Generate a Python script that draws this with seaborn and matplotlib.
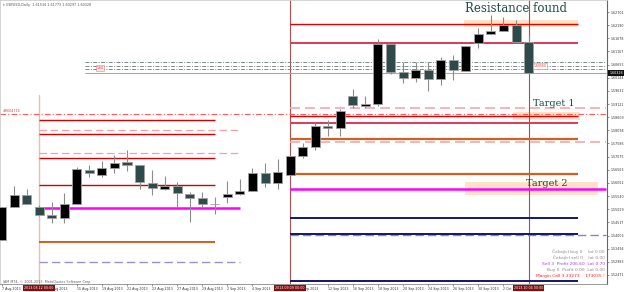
import numpy as np
import pandas as pd
import matplotlib
matplotlib.use("Agg")
import matplotlib.pyplot as plt
import matplotlib.transforms as mtransforms
import seaborn as sns

# ---------------- data ----------------
dates = ["2013-08-07", "2013-08-08", "2013-08-09", "2013-08-12", "2013-08-13", "2013-08-14",
         "2013-08-15", "2013-08-16", "2013-08-19", "2013-08-20", "2013-08-21", "2013-08-22",
         "2013-08-23", "2013-08-26", "2013-08-27", "2013-08-28", "2013-08-29", "2013-08-30",
         "2013-09-02", "2013-09-03", "2013-09-04", "2013-09-05", "2013-09-06", "2013-09-09",
         "2013-09-10", "2013-09-11", "2013-09-12", "2013-09-13", "2013-09-16", "2013-09-17",
         "2013-09-18", "2013-09-19", "2013-09-20", "2013-09-23", "2013-09-24", "2013-09-25",
         "2013-09-26", "2013-09-27", "2013-09-30", "2013-10-01", "2013-10-02", "2013-10-03",
         "2013-10-04"]
opens = [1.53832, 1.55116, 1.55583, 1.55116, 1.54805, 1.54688, 1.55232, 1.56555, 1.56361,
         1.56633, 1.56866, 1.56750, 1.56049, 1.55816, 1.55933, 1.55621, 1.55466, 1.55240,
         1.55505, 1.55621, 1.55738, 1.56438, 1.56049, 1.56361, 1.57100, 1.57450, 1.58267,
         1.58189, 1.59434, 1.59045, 1.59122, 1.61456, 1.60367, 1.60134, 1.60445, 1.60095,
         1.60834, 1.60406, 1.61495, 1.61845, 1.61962, 1.62195, 1.61534]
highs = [1.55116, 1.55933, 1.55816, 1.55194, 1.55310, 1.55660, 1.56672, 1.56750, 1.56905,
         1.57139, 1.57333, 1.56750, 1.56555, 1.56322, 1.56088, 1.55699, 1.55699, 1.55505,
         1.56127, 1.56205, 1.56633, 1.56827, 1.56983, 1.57100, 1.57605, 1.58383, 1.58500,
         1.58928, 1.59706, 1.59434, 1.61651, 1.61456, 1.60756, 1.60756, 1.60756, 1.60951,
         1.61028, 1.61379, 1.62079, 1.62584, 1.62507, 1.62390, 1.61773]
lows = [1.53832, 1.55116, 1.55232, 1.54766, 1.54493, 1.54493, 1.55232, 1.56283, 1.56283,
        1.56438, 1.56516, 1.55816, 1.55583, 1.55777, 1.55116, 1.54532, 1.55116, 1.54843,
        1.55271, 1.55583, 1.55738, 1.55894, 1.55816, 1.56361, 1.57022, 1.57333, 1.57878,
        1.57878, 1.58967, 1.58967, 1.59045, 1.60289, 1.59939, 1.59978, 1.59628, 1.59861,
        1.60056, 1.60406, 1.61301, 1.61845, 1.61962, 1.61534, 1.60297]
closes = [1.55116, 1.55583, 1.55232, 1.54805, 1.54688, 1.55232, 1.56594, 1.56438, 1.56633,
          1.56827, 1.56750, 1.56088, 1.55855, 1.55933, 1.55660, 1.55466, 1.55232, 1.55225,
          1.55621, 1.55738, 1.56438, 1.56049, 1.56477, 1.57100, 1.57450, 1.58267, 1.58189,
          1.58850, 1.59084, 1.59122, 1.61456, 1.60367, 1.60134, 1.60445, 1.60095, 1.60834,
          1.60445, 1.61379, 1.61845, 1.61962, 1.62195, 1.61534, 1.60328]

# date labels every second bar; parts hidden under the red marker boxes are left out
date_tick_idx = [0, 2, 4, 6, 8, 10, 12, 14, 16, 18, 20, 22, 24, 26, 28, 30, 32, 34, 36, 38, 40]
date_tick_labels = ["7 Aug 2013", "", "Aug 2013", "15 Aug 2013", "19 Aug 2013",
                    "21 Aug 2013", "23 Aug 2013", "27 Aug 2013", "29 Aug 2013", "2 Sep 2013",
                    "4 Sep 2013", "", "Sep 2013", "12 Sep 2013", "16 Sep 2013",
                    "18 Sep 2013", "20 Sep 2013", "24 Sep 2013", "26 Sep 2013", "30 Sep 2013",
                    "2 Oct"]
vline_idx = [3, 23, 42]
vline_labels = ["2013.08.12 00:00", "2013.09.09 00:00", "2013.10.04 00:00"]

price_ticks = [1.62701, 1.62190, 1.61678, 1.61167, 1.60655, 1.60144, 1.59632, 1.59121,
               1.58609, 1.58098, 1.57586, 1.57075, 1.56563, 1.56052, 1.55540, 1.55029,
               1.54517, 1.54006, 1.53494, 1.52983, 1.52471]
price_tick_labels = ["%.5f" % v for v in price_ticks]
last_close = 1.60328

# horizontal levels
right_red = [1.62234, 1.58656]
right_crimson = [1.61495, 1.58383]
right_orange = [1.57761, 1.56399]
right_navy = [1.54688, 1.54065, 1.52237]
right_magenta = [1.55816]
right_pink_dash = [1.58967, 1.57644]
right_purple_dash = [1.54027]
left_red = [1.58500, 1.57955, 1.57022, 1.55971]
left_pink_dash = [1.58111, 1.57216]
left_magenta = [1.55077]
left_orange = [1.53754]
left_purple_dash = [1.52976]
pivot_dashdot = [1.60756, 1.60601, 1.60484]
red_dashdot_full = [1.58733]
left_vline_top = 1.59473

resistance_zone = [1.62118, 1.62390]
target1_zone = [1.58500, 1.58811]
target2_zone = [1.55583, 1.56088]

# ---------------- styling ----------------
sns.set_theme(style="white")
plt.rcParams["font.family"] = ["DejaVu Sans"]
SMALL = ["DejaVu Sans"]

W, H = 625, 292
fig = plt.figure(figsize=(W / 100, H / 100), dpi=100)
fig.patch.set_facecolor("white")
ax = fig.add_axes([0, 8 / H, 607 / W, 284 / H])
ax.set_facecolor("white")

XMIN, XMAX = -0.12, 48.25
YMIN, YMAX = 1.52120, 1.63168


def px2x(px):
    return XMIN + (XMAX - XMIN) * px / 607.0


df = pd.DataFrame({"date": dates, "open": opens, "high": highs, "low": lows, "close": closes})
df["idx"] = np.arange(len(df))
df["body"] = (df["close"] - df["open"]).abs().clip(lower=0.00012)
df["base"] = df[["open", "close"]].min(axis=1)
df["bull"] = df["close"] >= df["open"]


def zone(x0px, x1px, lohi, color):
    ax.fill_between([px2x(x0px), px2x(x1px)], lohi[0], lohi[1], color=color, lw=0, zorder=0.5)


zone(464, 578, resistance_zone, "#fde2c4")
zone(513, 580, target1_zone, "#fde2c4")
zone(465, 598, target2_zone, "#fde2c4")

# wicks
ax.vlines(df["idx"], df["low"], df["high"], color="#8c8c8c", lw=0.8, zorder=2)

# candle bodies via seaborn bars
for is_bull, fc in [(True, "#000000"), (False, "#2f4a4a")]:
    sub = df[df["bull"] == is_bull].sort_values("idx")
    sns.barplot(x=sub["idx"].to_numpy(), y=sub["body"].to_numpy(),
                bottom=sub["base"].to_numpy(), native_scale=True, errorbar=None,
                width=0.72, color=fc, saturation=1, edgecolor="#a0a0a0",
                linewidth=0.6, ax=ax, zorder=3)


def hl(prices, x0px, x1px, color, lw, ls="-", z=1.5):
    for p in prices:
        ax.plot([px2x(x0px), px2x(x1px)], [p, p], color=color, lw=lw, ls=ls, zorder=z,
                solid_capstyle="butt")


hl(pivot_dashdot, 85, 606, "#7a8a8a", 0.7, (0, (4, 1.5, 1, 1.5)))
hl([last_close], 85, 606, "#a8a8a8", 0.8)
hl(red_dashdot_full, 0, 606, "#ff5a5a", 0.8, (0, (5, 2, 1, 2)))
hl(right_pink_dash, 290, 606, "#f2a8b0", 1.2, (0, (6, 3)))
hl(right_purple_dash, 290, 606, "#8c80c8", 1.0, (0, (6, 3)))
hl(right_red, 290, 578, "#e00000", 1.0)
hl(right_crimson, 290, 578, "#e0385a", 1.4)
hl(right_orange, 290, 578, "#d0601c", 1.6)
hl(right_magenta, 290, 606, "#ff00ff", 1.8)
hl(right_navy, 290, 578, "#14146e", 1.4)
hl(left_pink_dash, 39, 240, "#f2a0a8", 0.9, (0, (6, 3)))
hl(left_purple_dash, 39, 240, "#9a90cc", 1.0, (0, (6, 3)))
hl(left_red, 39, 215, "#d40000", 1.0)
hl(left_magenta, 38, 240, "#ff00ff", 1.8)
hl(left_orange, 39, 215, "#d0601c", 1.4)

# vertical lines
ax.plot([vline_idx[0], vline_idx[0]], [YMIN, left_vline_top], color="#f4b8b8", lw=1.0, zorder=1)
for i in vline_idx[1:]:
    ax.axvline(i, color="#a85050", lw=0.8, zorder=1)

# axes
ax.set_xlim(XMIN, XMAX)
ax.set_ylim(YMIN, YMAX)
ax.set_xticks(date_tick_idx)
ax.set_xticklabels(date_tick_labels, ha="left", family=SMALL, fontsize=2.3, color="#333333")
# the two partially covered labels start right after the red marker boxes
for lab in ax.get_xticklabels():
    if lab.get_text() in ("Aug 2013", "Sep 2013"):
        lab.set_transform(lab.get_transform() +
                          mtransforms.ScaledTranslation(5 / 100, 0, fig.dpi_scale_trans))
ax.yaxis.tick_right()
ax.set_yticks(price_ticks)
ax.set_yticklabels(price_tick_labels, family=SMALL, fontsize=2.3, color="#333333")
ax.tick_params(axis="x", length=1.5, width=0.5, pad=1.0, color="#666666", bottom=True)
ax.tick_params(axis="y", length=1.5, width=0.5, pad=0.8, color="#666666", right=True, left=False)
ax.set_xlabel("")
ax.set_ylabel("")
for s in ["top", "left"]:
    ax.spines[s].set_color("#cccccc")
    ax.spines[s].set_linewidth(0.6)
ax.spines["right"].set_color("#666666")
ax.spines["right"].set_linewidth(0.8)
ax.spines["bottom"].set_color("#888888")
ax.spines["bottom"].set_linewidth(0.6)

# vertical-line date markers on the x axis
for i, lab in zip(vline_idx, vline_labels):
    ax.text(i, -0.0145, lab, transform=ax.get_xaxis_transform(), ha="center", va="center",
            fontsize=2.3, color="white", family=SMALL, zorder=10, clip_on=False,
            bbox=dict(boxstyle="square,pad=0.35", fc="#8b0a0a", ec="none"))

# current price label
ax.text(1.004, last_close, "%.5f" % last_close, transform=ax.get_yaxis_transform(),
        ha="left", va="center", fontsize=2.3, color="white", family=SMALL, clip_on=False,
        bbox=dict(boxstyle="square,pad=0.35", fc="#111111", ec="none"), zorder=10)


def ptext(x, y, s, **kw):
    fig.text(x / W, 1 - y / H, s, **kw)


ptext(3, 5, "\u25be GBPUSD,Daily  1.61534 1.61773 1.60297 1.60328", fontsize=2.4,
      color="#555555", family=SMALL, va="center")
ptext(3, 282, "IAM MT4, \u00a9 2001-2013, MetaQuotes Software Corp.", fontsize=2.4,
      color="#666666", family=SMALL, va="center")
ptext(3, 111, "#0604716", fontsize=2.4, color="#d04848", family=SMALL, va="center")
ptext(100, 68, "1.60", fontsize=2.2, color="#e03030", family=SMALL, va="center", ha="center",
      bbox=dict(boxstyle="square,pad=0.2", fc="#ffe8e8", ec="#f08080", lw=0.4))
ptext(540, 66, "1.60560", fontsize=2.2, color="#e03030", family=SMALL, va="center", ha="center",
      bbox=dict(boxstyle="square,pad=0.2", fc="white", ec="#f08080", lw=0.4))

ptext(516, 9, "Resistance found", fontsize=8.5, color="#1f4d47", family=["DejaVu Serif"],
      ha="center", va="center")
ptext(554, 104, "Target 1", fontsize=7, color="#1f4d47", family=["DejaVu Serif"],
      ha="center", va="center")
ptext(547, 184, "Target 2", fontsize=7, color="#1f4d47", family=["DejaVu Serif"],
      ha="center", va="center")

info = [("\u010cekající buy 0    lot 0.00", "#8a8a8a", 252),
        ("\u010cekající sell 0    lot 0.00", "#8a8a8a", 258),
        ("Sell 3  Profit 206.60  Lot 0.70", "#b040e0", 264),
        ("Buy 0  Profit 0.00  Lot 0.00", "#8a8a8a", 270),
        ("Margin Call 3.33273    173035 !", "#ff2020", 276)]
for s, c, y in info:
    ptext(605, y, s, fontsize=3.2, color=c, family=SMALL, ha="right", va="center")

fig.savefig("out.png", dpi=100, facecolor="white")
